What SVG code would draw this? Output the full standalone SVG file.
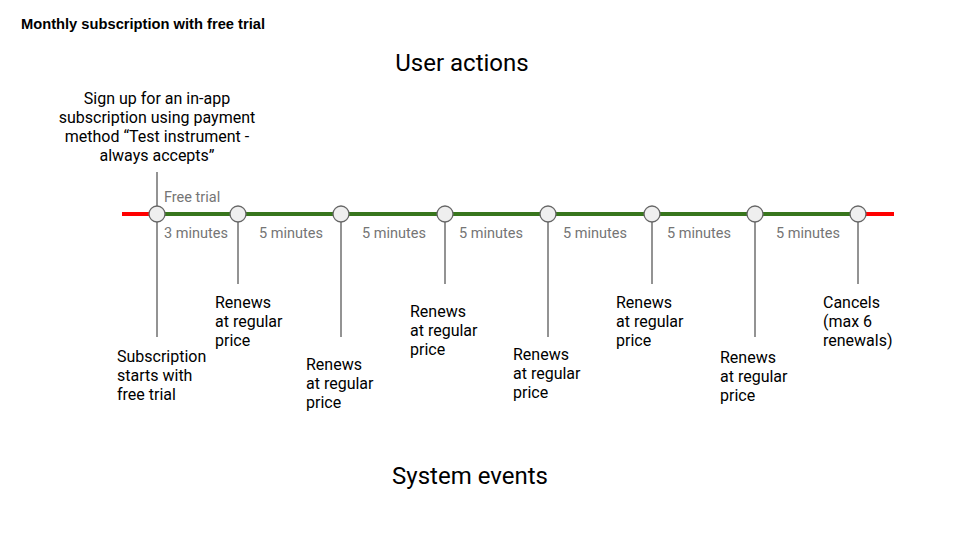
<svg xmlns="http://www.w3.org/2000/svg" width="960" height="540" viewBox="0 0 960 540">
<style>
.t{font-family:Roboto,"Liberation Sans",sans-serif;font-size:16px;fill:#000}
.g{font-family:Roboto,"Liberation Sans",sans-serif;font-size:14.5px;fill:#757575}
.h{font-family:Roboto,"Liberation Sans",sans-serif;font-size:24px;fill:#000;text-anchor:middle}
.v{stroke:#595959;stroke-width:1.3;fill:none}
.n{fill:#efefef;stroke:#666;stroke-width:1.3}
</style>
<rect width="960" height="540" fill="#fff"/>
<text x="21" y="29" font-family="'Liberation Sans',Arial,sans-serif" font-size="14.7" font-weight="bold">Monthly subscription with free trial</text>
<text class="h" x="462" y="71">User actions</text>
<text class="h" x="470" y="484">System events</text>
<text class="t" text-anchor="middle"><tspan x="157" y="104">Sign up for an in-app</tspan><tspan x="157" y="123">subscription using payment</tspan><tspan x="157" y="142">method “Test instrument -</tspan><tspan x="157" y="161">always accepts”</tspan></text>
<g id="connectors">
<line x1="122" y1="214" x2="157" y2="214" stroke="#ff0000" stroke-width="4"/>
<line x1="858" y1="214" x2="894" y2="214" stroke="#ff0000" stroke-width="4"/>
<line x1="157" y1="214" x2="858" y2="214" stroke="#38761d" stroke-width="4"/>
<line class="v" x1="157" y1="172" x2="157" y2="337"/>
<line class="v" x1="238" y1="214" x2="238" y2="284"/>
<line class="v" x1="341" y1="214" x2="341" y2="337"/>
<line class="v" x1="445" y1="214" x2="445" y2="284"/>
<line class="v" x1="548" y1="214" x2="548" y2="337"/>
<line class="v" x1="652" y1="214" x2="652" y2="284"/>
<line class="v" x1="755" y1="214" x2="755" y2="337"/>
<line class="v" x1="858" y1="214" x2="858" y2="284"/>
</g>
<g class="g">
<text x="164" y="202">Free trial</text>
<text x="164" y="238">3 minutes</text>
<text x="259" y="238">5 minutes</text>
<text x="362" y="238">5 minutes</text>
<text x="459" y="238">5 minutes</text>
<text x="563" y="238">5 minutes</text>
<text x="667" y="238">5 minutes</text>
<text x="776" y="238">5 minutes</text>
</g>
<g id="n0"><circle class="n" cx="157" cy="214" r="8"/><text class="t"><tspan x="117" y="362">Subscription</tspan><tspan x="117" y="381">starts with</tspan><tspan x="117" y="400">free trial</tspan></text></g>
<g id="n1"><circle class="n" cx="238" cy="214" r="8"/><text class="t"><tspan x="215" y="308">Renews</tspan><tspan x="215" y="327">at regular</tspan><tspan x="215" y="346">price</tspan></text></g>
<g id="n2"><circle class="n" cx="341" cy="214" r="8"/><text class="t"><tspan x="306" y="370">Renews</tspan><tspan x="306" y="389">at regular</tspan><tspan x="306" y="408">price</tspan></text></g>
<g id="n3"><circle class="n" cx="445" cy="214" r="8"/><text class="t"><tspan x="410" y="317">Renews</tspan><tspan x="410" y="336">at regular</tspan><tspan x="410" y="355">price</tspan></text></g>
<g id="n4"><circle class="n" cx="548" cy="214" r="8"/><text class="t"><tspan x="513" y="360">Renews</tspan><tspan x="513" y="379">at regular</tspan><tspan x="513" y="398">price</tspan></text></g>
<g id="n5"><circle class="n" cx="652" cy="214" r="8"/><text class="t"><tspan x="616" y="308">Renews</tspan><tspan x="616" y="327">at regular</tspan><tspan x="616" y="346">price</tspan></text></g>
<g id="n6"><circle class="n" cx="755" cy="214" r="8"/><text class="t"><tspan x="720" y="363">Renews</tspan><tspan x="720" y="382">at regular</tspan><tspan x="720" y="401">price</tspan></text></g>
<g id="n7"><circle class="n" cx="858" cy="214" r="8"/><text class="t"><tspan x="823" y="308">Cancels</tspan><tspan x="823" y="327">(max 6</tspan><tspan x="823" y="346">renewals)</tspan></text></g>
</svg>
